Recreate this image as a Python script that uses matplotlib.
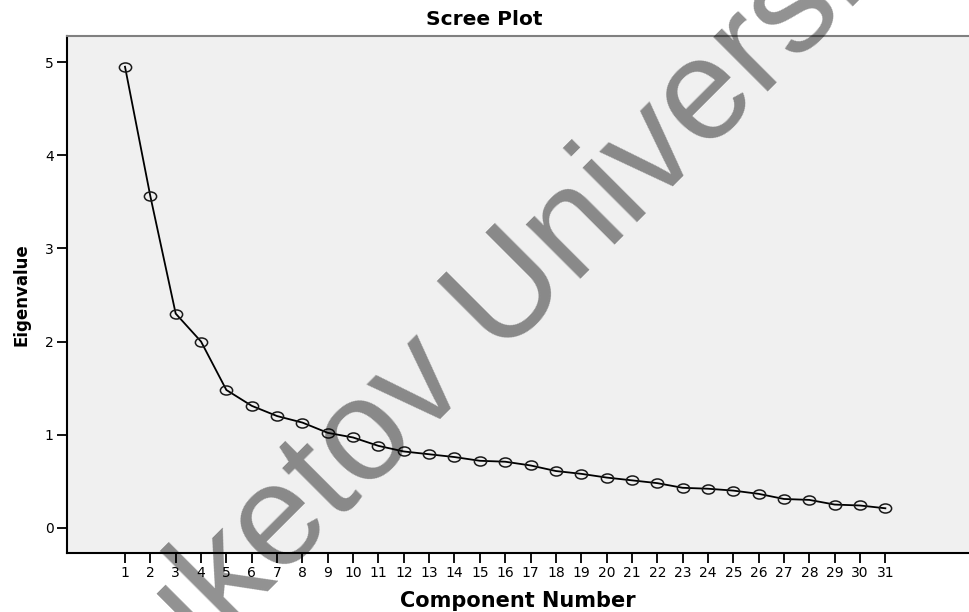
import numpy as np
import matplotlib.pyplot as plt
from matplotlib.path import Path
from matplotlib.transforms import Affine2D

plt.rcParams['font.family'] = ['DejaVu Sans']

components = np.arange(1, 32)
eigenvalues = [4.95, 3.56, 2.30, 2.00, 1.48, 1.31, 1.20, 1.13, 1.02, 0.97,
               0.88, 0.82, 0.79, 0.76, 0.72, 0.71, 0.67, 0.61, 0.58, 0.54,
               0.51, 0.48, 0.43, 0.42, 0.40, 0.365, 0.31, 0.30, 0.25, 0.24, 0.21]
y_ticks = [0, 1, 2, 3, 4, 5]

# slightly flattened open circle, like the SPSS marker
ellipse = Path.unit_circle().transformed(Affine2D().scale(1.35, 1.0))

fig = plt.figure(figsize=(9.69, 6.12), dpi=100)
ax = fig.add_axes([0.0691, 0.0964, 0.9309, 0.8448])
ax.set_facecolor('#f0f0f0')

ax.plot(components, eigenvalues, color='black', lw=1.3, marker=ellipse,
        markersize=8.8, markerfacecolor='none', markeredgecolor='#1a1a1a',
        markeredgewidth=1.1)

ax.set_xlim(-1.29, 34.3)
ax.set_ylim(-0.27, 5.28)
ax.set_xticks(components)
ax.set_yticks(y_ticks)
ax.tick_params(axis='both', direction='out', length=7.5, width=1.3,
               labelsize=10, colors='black', pad=2)

for side in ['left', 'bottom']:
    ax.spines[side].set_linewidth(1.5)
    ax.spines[side].set_color('black')
ax.spines['top'].set_linewidth(1.5)
ax.spines['top'].set_color('#808080')
ax.spines['right'].set_visible(False)

ax.set_xlabel('Component Number', fontsize=15, fontweight='bold', labelpad=8)
ax.set_ylabel('Eigenvalue', fontsize=12, fontweight='bold', labelpad=10)
fig.text(0.5, 0.968, 'Scree Plot', ha='center', va='center', fontsize=14.5,
         fontweight='bold')

# watermark
fig.text(0.106, -0.236, 'Buketov University', rotation=45, rotation_mode='anchor',
         ha='left', va='baseline', fontsize=104, color='black', alpha=0.43,
         family='Liberation Sans')

fig.savefig('out.png', dpi=100)
